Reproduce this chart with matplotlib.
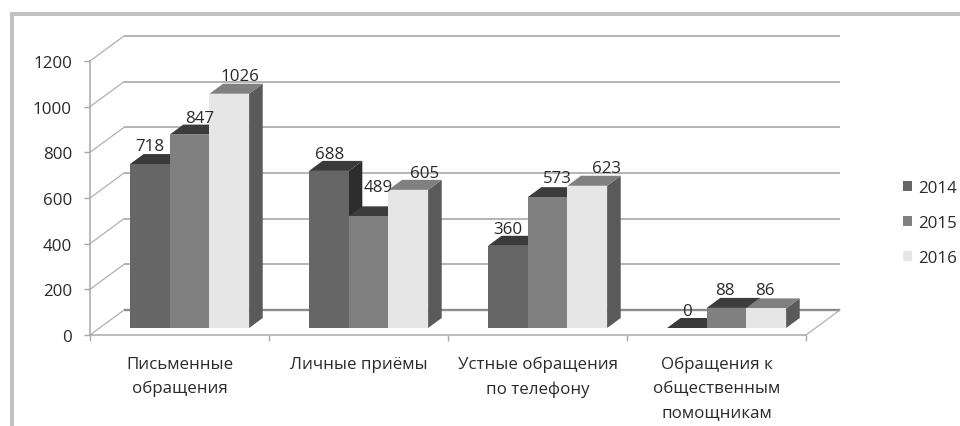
#!/usr/bin/env python3
"""3D-look clustered bars of citizen requests, 2014-2016."""

import matplotlib
matplotlib.use('Agg')
import matplotlib.pyplot as plt
import matplotlib.patches as mpatches

plt.rcParams['font.family'] = ['Open Sans', 'DejaVu Sans']

categories = ['Письменные\nобращения', 'Личные приёмы',
              'Устные обращения\nпо телефону',
              'Обращения к\nобщественным\nпомощникам']
years = ['2014', '2015', '2016']
values_2014 = [718, 688, 360, 0]
values_2015 = [847, 489, 573, 88]
values_2016 = [1026, 605, 623, 86]
y_ticks = [0, 200, 400, 600, 800, 1000, 1200]

# label nudges in pixels from the bar top, the original has them hand placed
nudge_2014 = [(-7, 8), (-6.5, 7), (-6.5, 7), (-7, 7)]
nudge_2015 = [(3, 7), (3, 19), (3, 9), (-8, 8)]
nudge_2016 = [(4, 8), (9, 7), (12, 8), (-8, 8)]

FS = 12.2
W, H = 960, 427
fig = plt.figure(figsize=(W / 100, H / 100), dpi=100, facecolor='white')
ax = fig.add_axes([90 / W, (H - 336) / H, 716 / W, 274 / H])
ax.set_xlim(0, 4)
ax.set_ylim(0, 1200)
ax.patch.set_alpha(0)

# grey frame of the page, left and top only
fig.add_artist(mpatches.Rectangle((10 / W, 0), 4 / W, (H - 13) / H, transform=fig.transFigure,
                                  facecolor='#c2c2c6', edgecolor='none'))
fig.add_artist(mpatches.Rectangle((10 / W, (H - 17) / H), (W - 10) / W, 4 / H, transform=fig.transFigure,
                                  facecolor='#c2c2c6', edgecolor='none'))

# depth axis: d=0 is the front plane, d=1 the back wall
DX = 34 / 179
DY = 25 / (274 / 1200)


def project(c, v, d):
    return c + d * DX, v + d * DY


# back wall and side wall
for v in y_ticks:
    x0, y0 = project(0, v, 1)
    x1, y1 = project(4, v, 1)
    base = v == 0
    ax.plot([x0, x1], [y0, y1], color='#8c8c8c' if base else '#b4b4b4', lw=1.7 if base else 1.4,
            clip_on=False, zorder=1, solid_capstyle='butt')
    ax.plot([0, x0], [v, y0], color='#b0b0b0', lw=0.9, clip_on=False, zorder=1)
x1, y1 = project(4, 0, 1)
ax.plot([4, x1], [0, y1], color='#b0b0b0', lw=0.9, clip_on=False, zorder=1)

# bars
BAR_W = 39.7 / 179
GAP = 30.5 / 179
D0, D1 = 0.28, 0.68
FRONT = ['#666666', '#808080', '#e6e6e6']
TOP = ['#3a3a3a', '#3c3c3c', '#808080']
SIDE = ['#2d2d2d', '#474747', '#5a5a5a']
series = [values_2014, values_2015, values_2016]
nudges = [nudge_2014, nudge_2015, nudge_2016]


def poly(points, color):
    ax.add_patch(mpatches.Polygon([project(*p) for p in points], closed=True, facecolor=color,
                                  edgecolor='none', clip_on=False, zorder=3))


for i in range(len(categories)):
    for s, vals in enumerate(series):
        v = vals[i]
        left = i + GAP + s * BAR_W
        right = left + BAR_W
        poly([(right, 0, D0), (right, 0, D1), (right, v, D1), (right, v, D0)], SIDE[s])
        poly([(left, v, D0), (right, v, D0), (right, v, D1), (left, v, D1)], TOP[s])
        poly([(left, 0, D0), (right, 0, D0), (right, v, D0), (left, v, D0)], FRONT[s])
        xa, ya = project((left + right) / 2, v, D1)
        nx, ny = nudges[s][i]
        ax.annotate(str(v), xy=(xa - (D1 - 0.48) * DX, ya), xytext=(nx * 0.72, ny * 0.72),
                    textcoords='offset points', ha='center', va='center', fontsize=FS,
                    color='#2a2a2a', zorder=5, annotation_clip=False)

# axes
for name in ['top', 'right']:
    ax.spines[name].set_visible(False)
for name in ['left', 'bottom']:
    ax.spines[name].set_color('#a8a8a8')
    ax.spines[name].set_linewidth(1.1)
ax.set_yticks(y_ticks)
ax.set_xticks(range(5))
ax.set_xticklabels([])
ax.set_xticks([i + 0.5 for i in range(4)], labels=categories, minor=True)
ax.tick_params(axis='x', which='major', length=4, width=1, color='#a8a8a8')
ax.tick_params(axis='x', which='minor', length=0, pad=15, labelsize=FS, labelcolor='#2a2a2a')
ax.tick_params(axis='y', length=4, width=1, color='#a8a8a8', pad=9, labelsize=FS, labelcolor='#2a2a2a')
for lab in ax.get_xticklabels(minor=True):
    lab.set_linespacing(1.65)
for lab in ax.get_yticklabels():
    lab.set_va('center_baseline')

# legend
handles = [mpatches.Patch(facecolor=c, edgecolor='none', label=y) for c, y in zip(FRONT, years)]
fig.legend(handles=handles, loc='center left', bbox_to_anchor=(903 / W, (H - 224) / H), frameon=False,
           fontsize=FS, labelcolor='#2a2a2a', handlelength=0.55, handleheight=0.55,
           handletextpad=0.35, labelspacing=1.14, borderpad=0, borderaxespad=0)

fig.savefig('out.png', dpi=100, facecolor='white')
